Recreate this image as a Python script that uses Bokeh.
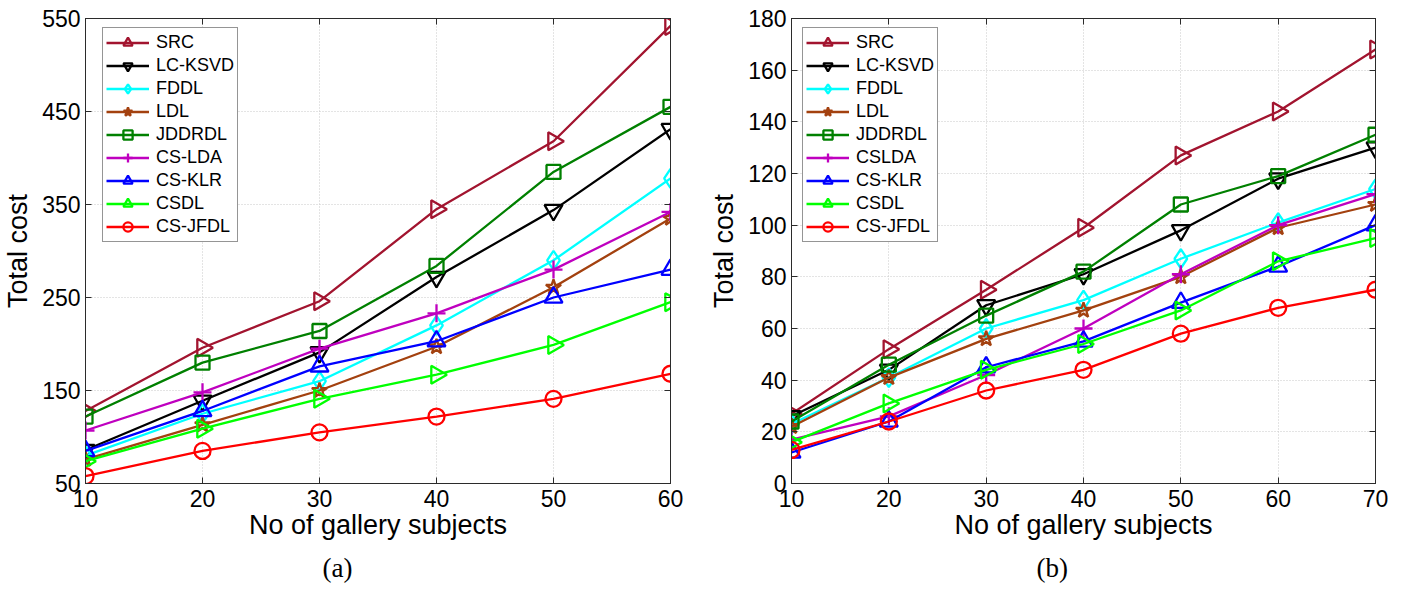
import math
from bokeh.plotting import figure
from bokeh.layouts import row
from bokeh.models import LinearAxis, FixedTicker, Range1d, Legend, Grid, Title
from bokeh.embed import file_html
from bokeh.resources import INLINE

# ---------------- data ----------------
names_a = ["SRC", "LC-KSVD", "FDDL", "LDL", "JDDRDL", "CS-LDA", "CS-KLR", "CSDL", "CS-JFDL"]
names_b = ["SRC", "LC-KSVD", "FDDL", "LDL", "JDDRDL", "CSLDA", "CS-KLR", "CSDL", "CS-JFDL"]

x_a = [10, 20, 30, 40, 50, 60]
src_a = [128, 196, 246, 345, 418, 542]
lcksvd_a = [86, 139, 191, 272, 344, 431]
fddl_a = [80, 125, 160, 220, 290, 378]
ldl_a = [76, 113, 150, 197, 261, 335]
jddrdl_a = [122, 180, 214, 284, 385, 455]
cslda_a = [107, 148, 195, 233, 280, 342]
csklr_a = [85, 128, 176, 203, 250, 280]
csdl_a = [74, 109, 141, 167, 199, 245]
csjfdl_a = [58, 85, 105, 122, 141, 168]

x_b = [10, 20, 30, 40, 50, 60, 70]
src_b = [27, 52, 75, 99, 127, 144, 168]
lcksvd_b = [26, 44, 69, 81, 98, 118, 130]
fddl_b = [23, 41, 60, 71, 87, 101, 114]
ldl_b = [22, 41, 56, 67, 80, 99, 108]
jddrdl_b = [24, 46, 65, 82, 108, 119, 135]
cslda_b = [17, 26, 42, 60, 81, 100, 112]
csklr_b = [12, 24, 45, 55, 70, 84, 100]
csdl_b = [16, 31, 44, 54, 67, 86, 95]
csjfdl_b = [13, 24, 36, 44, 58, 68, 75]

yticks_a = [50, 150, 250, 350, 450, 550]
yticks_b = [0, 20, 40, 60, 80, 100, 120, 140, 160, 180]

# ---------------- styles ----------------
colors = ["#A2142F", "#000000", "#00FFFF", "#A3410F", "#008000", "#BF00BF", "#0000FF", "#00FF00", "#FF0000"]
markers = ["triangle", "inverted_triangle", "diamond", "star", "square", "cross", "triangle", "triangle", "circle"]
angles = [-math.pi / 2, 0, 0, 0, 0, 0, 0, -math.pi / 2, 0]
sizes = [18, 18, 19, 16, 14, 18, 18, 18, 16]

SANS = "Liberation Sans"
FRAME = "#2b2b2b"


def make_fig(xs, series, names, yr, yticks, xticks, left, fw, right, label_text, label_offset, leg_x):
    p = figure(height=590, frame_width=fw, frame_height=465,
               x_range=Range1d(xs[0], xs[-1]), y_range=Range1d(yr[0], yr[1]),
               output_backend="svg", toolbar_location=None,
               min_border_left=left, min_border_top=18, min_border_bottom=107,
               min_border_right=right, x_axis_location=None, y_axis_location=None)
    p.outline_line_color = FRAME
    p.outline_line_width = 1
    p.background_fill_color = "white"
    p.border_fill_color = "white"

    xb = LinearAxis(ticker=FixedTicker(ticks=xticks), axis_label="No of gallery subjects")
    yl = LinearAxis(ticker=FixedTicker(ticks=yticks), axis_label="Total cost")
    xt = LinearAxis(ticker=FixedTicker(ticks=xticks))
    yr_ax = LinearAxis(ticker=FixedTicker(ticks=yticks))
    for ax in (xb, yl, xt, yr_ax):
        ax.axis_line_color = FRAME
        ax.major_tick_line_color = FRAME
        ax.major_tick_in = 6
        ax.major_tick_out = 0
        ax.minor_tick_line_color = None
        ax.major_label_text_font = SANS
        ax.major_label_text_font_size = "23px"
        ax.major_label_text_color = "#000000"
        ax.axis_label_text_font = SANS
        ax.axis_label_text_font_size = "27px"
        ax.axis_label_text_font_style = "normal"
        ax.axis_label_text_color = "#000000"
    xb.major_label_standoff = 6
    xb.axis_label_standoff = 0
    yl.major_label_standoff = 5
    yl.axis_label_standoff = 6
    xt.major_label_overrides = {t: "" for t in xticks}
    yr_ax.major_label_overrides = {t: "" for t in yticks}
    for ax in (xt, yr_ax):
        ax.major_label_standoff = 0
    p.add_layout(xb, "below")
    p.add_layout(yl, "left")
    p.add_layout(xt, "above")
    p.add_layout(yr_ax, "right")

    p.add_layout(Title(text=label_text, align="left", offset=label_offset,
                       text_font="Liberation Serif", text_font_size="27px",
                       text_font_style="normal", text_color="#000000", standoff=17), "below")

    p.xgrid.visible = False
    p.ygrid.visible = False
    gx = Grid(dimension=0, ticker=FixedTicker(ticks=xticks), grid_line_color="#c8c8c8",
              grid_line_dash="1 2", grid_line_width=1)
    gy = Grid(dimension=1, ticker=FixedTicker(ticks=yticks), grid_line_color="#c8c8c8",
              grid_line_dash="1 2", grid_line_width=1)
    p.add_layout(gx)
    p.add_layout(gy)

    items = []
    for i, (ys, nm) in enumerate(zip(series, names)):
        c = colors[i]
        ln = p.line(xs, ys, line_color=c, line_width=2.3)
        sc = p.scatter(xs, ys, marker=markers[i], size=sizes[i], angle=angles[i],
                       line_color=c, line_width=2.3, fill_color=None)
        items.append((nm, [ln, sc]))

    leg = Legend(items=items, location=(leg_x, 241))
    leg.label_text_font = SANS
    leg.label_text_font_size = "18px"
    leg.label_text_color = "#000000"
    leg.border_line_color = FRAME
    leg.border_line_width = 1
    leg.background_fill_color = "white"
    leg.background_fill_alpha = 1
    leg.padding = 3
    leg.spacing = 0
    leg.glyph_width = 43
    leg.glyph_height = 23
    leg.label_height = 23
    leg.label_standoff = 7
    leg.margin = 0
    p.add_layout(leg, "center")
    return p


series_a = [src_a, lcksvd_a, fddl_a, ldl_a, jddrdl_a, cslda_a, csklr_a, csdl_a, csjfdl_a]
series_b = [src_b, lcksvd_b, fddl_b, ldl_b, jddrdl_b, cslda_b, csklr_b, csdl_b, csjfdl_b]

p1 = make_fig(x_a, series_a, names_a, (50, 550), yticks_a, x_a, 85, 585, 30, "(a)", 237, 17)
p2 = make_fig(x_b, series_b, names_b, (0, 180), yticks_b, x_b, 91, 584, 27, "(b)", 245, 11)

layout = row(p1, p2)
open("out.html", "w").write(file_html(layout, INLINE))
